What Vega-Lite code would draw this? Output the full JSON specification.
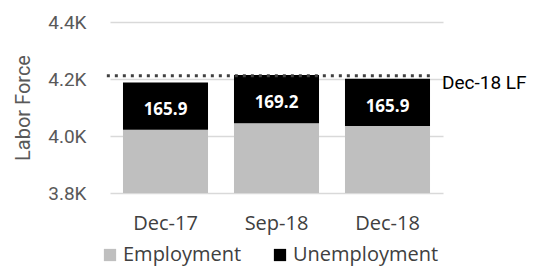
{
  "$schema": "https://vega.github.io/schema/vega-lite/v6.json",
  "autosize": {"type": "none"},
  "width": 333,
  "height": 171,
  "padding": {"left": 110, "top": 22, "right": 99, "bottom": 76},
  "background": "white",
  "config": {
    "view": {"stroke": null},
    "axis": {"labelColor": "#595959", "titleColor": "#595959"}
  },
  "data": {
    "values": [
      {"period": "Dec-17", "series": "Employment", "value": 4022},
      {"period": "Dec-17", "series": "Unemployment", "value": 165.9},
      {"period": "Sep-18", "series": "Employment", "value": 4045},
      {"period": "Sep-18", "series": "Unemployment", "value": 169.2},
      {"period": "Dec-18", "series": "Employment", "value": 4035},
      {"period": "Dec-18", "series": "Unemployment", "value": 165.9}
    ]
  },
  "encoding": {
    "x": {
      "field": "period",
      "type": "nominal",
      "sort": ["Dec-17", "Sep-18", "Dec-18"],
      "scale": {"paddingInner": 0.234, "paddingOuter": 0.117},
      "axis": {
        "title": null,
        "domain": false,
        "ticks": false,
        "labelAngle": 0,
        "labelFont": "Open Sans",
        "labelFontSize": 20,
        "labelColor": "#404040",
        "labelPadding": 20
      }
    }
  },
  "layer": [
    {
      "mark": {"type": "bar", "clip": true},
      "encoding": {
        "y": {
          "field": "value",
          "type": "quantitative",
          "stack": "zero",
          "scale": {"domain": [3800, 4400], "zero": false, "nice": false},
          "axis": {
            "title": "Labor Force",
            "titleFont": "Roboto",
            "titleFontSize": 20,
            "titleFontWeight": "normal",
            "titlePadding": 14,
            "values": [3800, 4000, 4200, 4400],
            "labelExpr": "format(datum.value / 1000, '.1f') + 'K'",
            "labelFont": "Roboto",
            "labelFontWeight": "normal",
            "labelFontSize": 19,
            "labelPadding": 24,
            "domain": false,
            "ticks": false,
            "gridColor": "#d9d9d9",
            "gridWidth": 1.5
          }
        },
        "order": {"field": "series", "sort": "ascending"},
        "color": {
          "field": "series",
          "type": "nominal",
          "scale": {"domain": ["Employment", "Unemployment"], "range": ["#bfbfbf", "#000000"]},
          "legend": {
            "title": null,
            "orient": "none",
            "legendX": -10,
            "legendY": 223,
            "direction": "horizontal",
            "symbolType": "square",
            "symbolSize": 150,
            "symbolStrokeWidth": 0,
            "symbolDash": [],
            "symbolOpacity": 1,
            "labelFont": "Open Sans",
            "labelFontSize": 20,
            "labelColor": "#404040",
            "labelOffset": 3,
            "columnPadding": 28
          }
        }
      }
    },
    {
      "transform": [
        {"stack": "value", "groupby": ["period"], "sort": [{"field": "series", "order": "ascending"}], "as": ["v0", "v1"]},
        {"filter": "datum.series === 'Unemployment'"}
      ],
      "mark": {"type": "text", "font": "Open Sans", "fontSize": 17, "fontWeight": "bold", "color": "white", "baseline": "middle", "dy": 28},
      "encoding": {
        "y": {"field": "v1", "type": "quantitative"},
        "text": {"field": "value", "type": "quantitative", "format": ".1f"}
      }
    },
    {
      "data": {"values": [{"lf": 4211, "label": "Dec-18 LF"}]},
      "mark": {"type": "rule", "strokeDash": [3, 5], "strokeWidth": 3, "color": "#404040"},
      "encoding": {
        "x": {"datum": "Dec-17", "bandPosition": -0.19},
        "x2": {"datum": "Dec-18", "bandPosition": 1},
        "y": {"field": "lf", "type": "quantitative"}
      }
    },
    {
      "data": {"values": [{"lf": 4211, "label": "Dec-18 LF"}]},
      "mark": {"type": "text", "align": "left", "baseline": "middle", "dx": 12, "dy": 7, "font": "Roboto", "fontSize": 19, "color": "#000000"},
      "encoding": {
        "x": {"datum": "Dec-18", "bandPosition": 1},
        "y": {"field": "lf", "type": "quantitative"},
        "text": {"field": "label"}
      }
    }
  ]
}
